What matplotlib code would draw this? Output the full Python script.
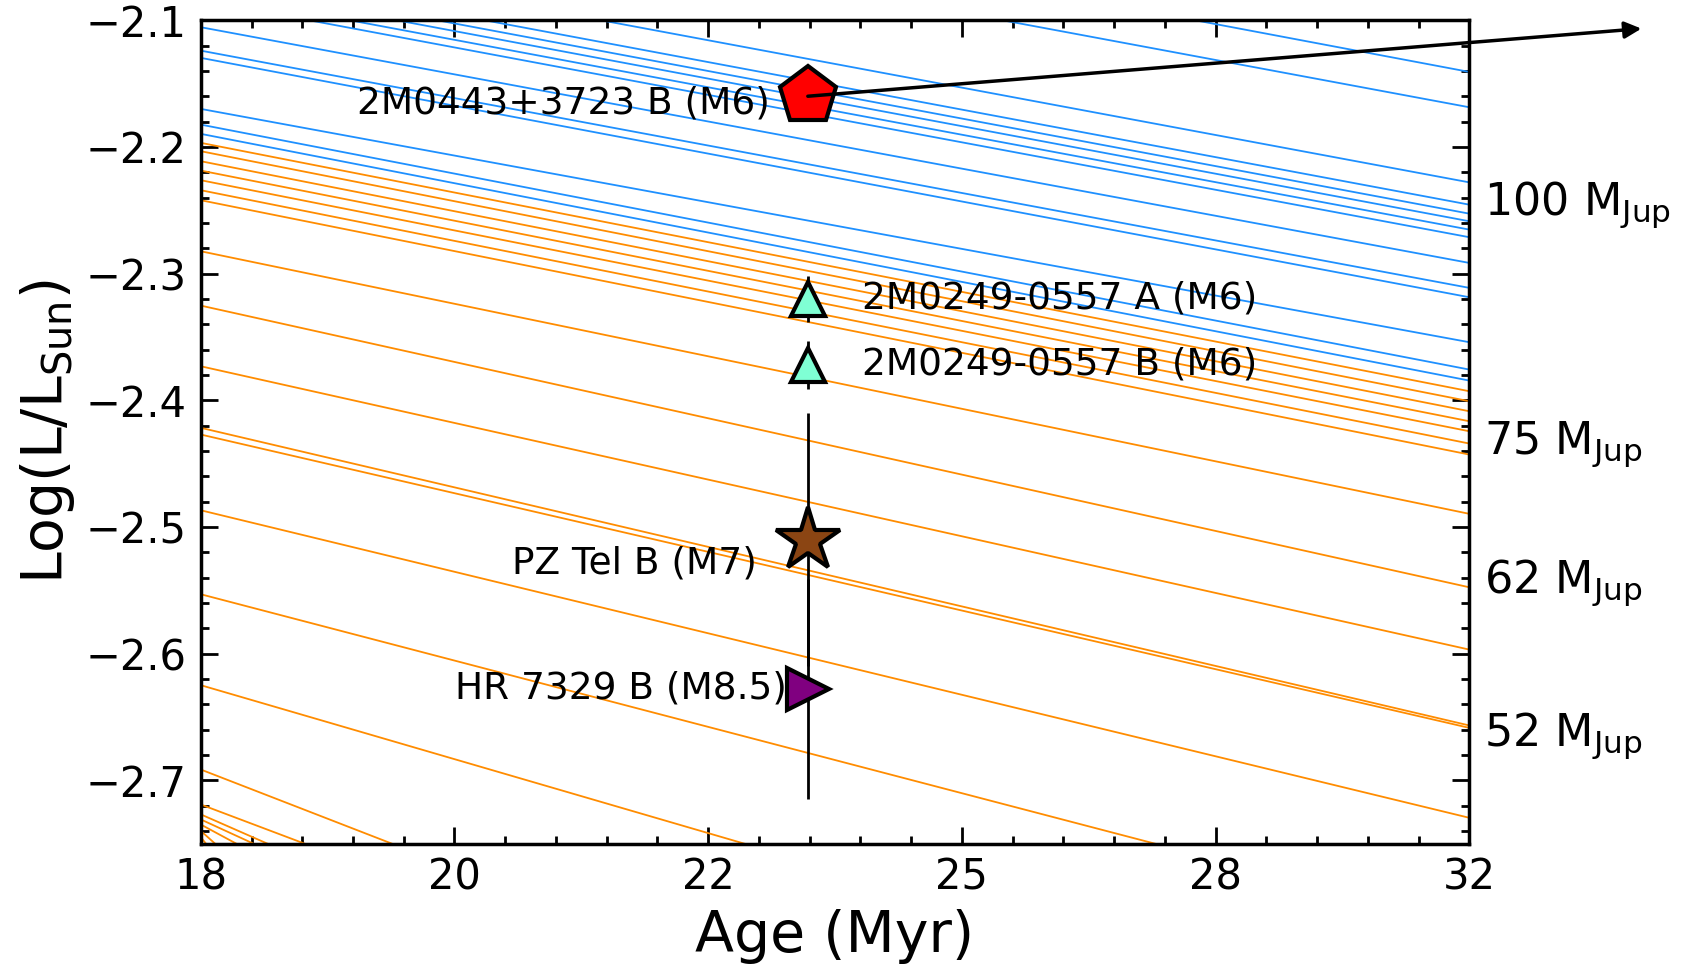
import numpy as np
import matplotlib
matplotlib.use('Agg')
import matplotlib.pyplot as plt

# --- tracks: Log(L/Lsun) at the left (18) and right (32) ends of the age window ---
blue_lum_18 = [-1.952, -1.982, -2.041, -2.058, -2.065, -2.071, -2.078, -2.084,
               -2.1055, -2.124, -2.1297, -2.170, -2.1824, -2.1897]
blue_lum_32 = [-2.1408, -2.1687, -2.2280, -2.2456, -2.2527, -2.2587, -2.2653, -2.2713,
               -2.2916, -2.3113, -2.3187, -2.3542, -2.3758, -2.3845]

orange_lum_18 = [-2.1968, -2.2034, -2.2113, -2.2187, -2.2263, -2.2342, -2.2421,
                 -2.2824, -2.3253, -2.3732, -2.4218, -2.4271, -2.4869, -2.5532,
                 -2.6250, -2.6916, -2.7192, -2.727, -2.731, -2.735, -2.740, -2.745]
orange_lum_32 = [-2.3929, -2.4008, -2.4087, -2.4166, -2.4245, -2.4342, -2.4429,
                 -2.4897, -2.5477, -2.5969, -2.6568, -2.6587, -2.7297, -2.815,
                 -2.917, -3.080, -3.097, -3.167, -3.191, -3.275, -3.640, -3.995]

track_age = [18, 32]

# --- objects ---
obj_names = ['2M0443+3723 B (M6)', '2M0249-0557 A (M6)', '2M0249-0557 B (M6)',
             'PZ Tel B (M7)', 'HR 7329 B (M8.5)']
obj_age = [24.70, 24.70, 24.70, 24.70, 24.70]
obj_lum = [-2.160, -2.320, -2.372, -2.510, -2.628]
obj_lum_err = [0.0, 0.018, 0.019, 0.100, 0.087]

mass_labels = ['100', '75', '62', '52']
mass_label_lum = [-2.2534, -2.4424, -2.5517, -2.6729]

xtick_labels = ['18', '20', '22', '25', '28', '32']

fig = plt.figure(figsize=(16.83, 9.64), dpi=100)
ax = fig.add_axes([0.1193, 0.125, 0.7537, 0.854])

for l0, l1 in zip(blue_lum_18, blue_lum_32):
    ax.plot(track_age, [l0, l1], color='#1E90FF', lw=1.3)
for l0, l1 in zip(orange_lum_18, orange_lum_32):
    ax.plot(track_age, [l0, l1], color='darkorange', lw=1.3)

# marker styles per object
styles = [('p', 'red', 43), ('^', 'aquamarine', 25), ('^', 'aquamarine', 25),
          ('*', 'saddlebrown', 48), ('>', 'purple', 30)]
for i, (m, c, s) in enumerate(styles):
    ax.errorbar(obj_age[i], obj_lum[i], yerr=obj_lum_err[i], fmt=m, color='k',
                mfc=c, mec='k', mew=3, ms=s, elinewidth=2, capsize=0, zorder=5)

txt_kw = dict(fontsize=27, va='center', zorder=6)
ax.text(24.277, -2.1661, obj_names[0], ha='right', **txt_kw)
ax.text(25.296, obj_lum[1], obj_names[1], ha='left', **txt_kw)
ax.text(25.296, obj_lum[2], obj_names[2], ha='left', **txt_kw)
ax.text(24.135, -2.5288, obj_names[3], ha='right', **txt_kw)
ax.text(24.467, obj_lum[4], obj_names[4], ha='right', **txt_kw)

# arrow leaving the plot for the brightest object
ax.annotate('', xy=(33.9, -2.1066), xytext=(obj_age[0], obj_lum[0]),
            arrowprops=dict(arrowstyle='-|>', color='k', lw=2.5, mutation_scale=25,
                            shrinkA=0, shrinkB=0),
            annotation_clip=False, zorder=7)

trans = ax.get_yaxis_transform()
for lab, y in zip(mass_labels, mass_label_lum):
    ax.text(1.012, y, lab + r' M$_{\rm Jup}$', transform=trans, fontsize=32,
            ha='left', va='baseline')

ax.set_xlim(18, 32)
ax.set_ylim(-2.75, -2.1)
ax.set_xticks(np.linspace(18, 32, 6))
ax.set_xticklabels(xtick_labels)
ax.set_xticks(np.linspace(18, 32, 26), minor=True)
ax.set_yticks(np.arange(-2.7, -2.09, 0.1))
ax.set_yticks(np.arange(-2.74, -2.09, 0.02), minor=True)
ax.tick_params(which='both', direction='in', top=True, right=True, labelsize=30, width=2)
ax.tick_params(which='major', length=12)
ax.tick_params(which='minor', length=6)
ax.tick_params(axis='x', pad=9)
ax.tick_params(axis='y', pad=10)
for sp in ax.spines.values():
    sp.set_linewidth(2.5)

ax.set_xlabel('Age (Myr)', fontsize=41, labelpad=8)
ax.set_ylabel(r'Log(L/L$_{\rm Sun}$)', fontsize=41, labelpad=6)

fig.savefig('out.png', dpi=100)
